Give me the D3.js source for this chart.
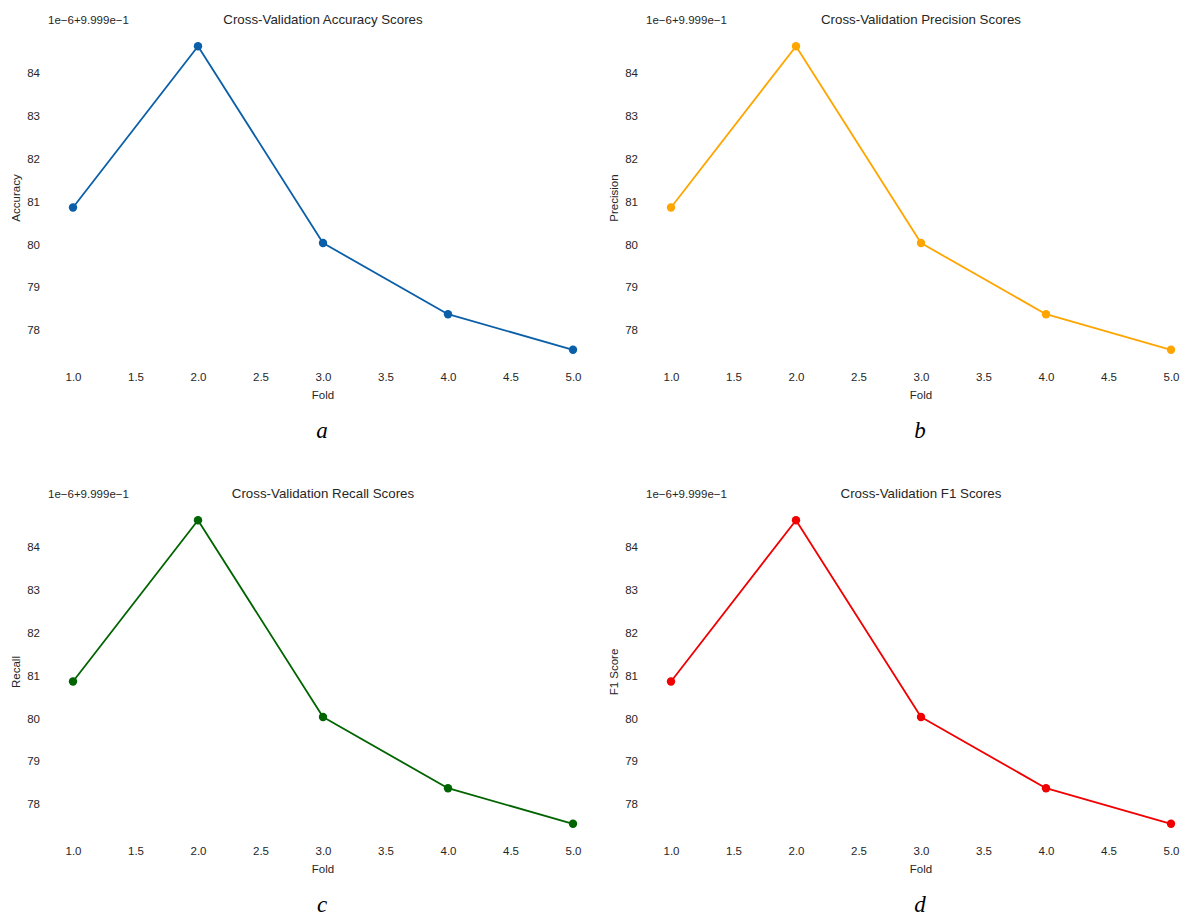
<!DOCTYPE html>
<html>
<head>
<meta charset="utf-8">
<script src="https://cdn.jsdelivr.net/npm/d3@7"></script>
<style>
  html, body { margin: 0; padding: 0; background: #fff; }
  svg { display: block; }
  text { fill: #262626; }
  .sans { font-family: "Liberation Sans", Arial, sans-serif; }
  .tag { font-family: "Liberation Serif", "Times New Roman", serif; font-style: italic; fill: #000; }
</style>
</head>
<body>
<svg id="chart" width="1183" height="916"></svg>
<script>
// Fold numbers and per-metric cross-validation scores
const folds = [1, 2, 3, 4, 5];
const accuracyScores  = [0.99998086, 0.99998462, 0.99998003, 0.99997837, 0.99997754];
const precisionScores = [0.99998086, 0.99998462, 0.99998003, 0.99997837, 0.99997754];
const recallScores    = [0.99998086, 0.99998462, 0.99998003, 0.99997837, 0.99997754];
const f1Scores        = [0.99998086, 0.99998462, 0.99998003, 0.99997837, 0.99997754];

// Axis offset notation: value = 9.999e-1 + tick * 1e-6
const offsetBase = 0.9999;
const offsetScale = 1e-6;
const offsetText = "1e\u22126+9.999e\u22121";
const yTickLabels = [78, 79, 80, 81, 82, 83, 84];
const xTickLabels = [1.0, 1.5, 2.0, 2.5, 3.0, 3.5, 4.0, 4.5, 5.0];

const panels = [
  { title: "Cross-Validation Accuracy Scores",  ylabel: "Accuracy",  values: accuracyScores,  color: "#0a5fa8", tag: "a", col: 0, row: 0 },
  { title: "Cross-Validation Precision Scores", ylabel: "Precision", values: precisionScores, color: "#ffa500", tag: "b", col: 1, row: 0 },
  { title: "Cross-Validation Recall Scores",    ylabel: "Recall",    values: recallScores,    color: "#006400", tag: "c", col: 0, row: 1 },
  { title: "Cross-Validation F1 Scores",        ylabel: "F1 Score",  values: f1Scores,        color: "#f00000", tag: "d", col: 1, row: 1 }
];

const svg = d3.select("#chart");
const colStep = 598, rowStep = 474;

panels.forEach(p => {
  const ox = p.col * colStep, oy = p.row * rowStep;
  const g = svg.append("g").attr("transform", `translate(${ox},${oy})`);

  // matplotlib-style 5% margins around the data
  const xExt = d3.extent(folds), xPad = (xExt[1] - xExt[0]) * 0.05;
  const yExt = d3.extent(p.values), yPad = (yExt[1] - yExt[0]) * 0.05;
  const x = d3.scaleLinear().domain([xExt[0] - xPad, xExt[1] + xPad]).range([48, 598]);
  const y = d3.scaleLinear().domain([yExt[0] - yPad, yExt[1] + yPad]).range([365, 31]);

  const xAxis = d3.axisBottom(x).tickValues(xTickLabels).tickSize(0).tickPadding(0)
    .tickFormat(d3.format(".1f"));
  const yAxis = d3.axisLeft(y)
    .tickValues(yTickLabels.map(t => offsetBase + t * offsetScale))
    .tickSize(0).tickPadding(0)
    .tickFormat(v => Math.round((v - offsetBase) / offsetScale));

  const gx = g.append("g").attr("transform", "translate(0,373)").call(xAxis);
  gx.select(".domain").remove();
  gx.selectAll("text").attr("class", "sans").attr("font-size", 11.5).attr("fill", "#262626").attr("dy", "0.71em");

  const gy = g.append("g").attr("transform", "translate(40,0)").call(yAxis);
  gy.select(".domain").remove();
  gy.selectAll("text").attr("class", "sans").attr("font-size", 11.5).attr("fill", "#262626");

  // Offset annotation above the y axis
  g.append("text").attr("class", "sans").attr("x", 48).attr("y", 24).attr("font-size", 11.5).text(offsetText);

  // Title
  g.append("text").attr("class", "sans").attr("x", 323).attr("y", 24).attr("text-anchor", "middle")
    .attr("font-size", 13.3).text(p.title);

  // Axis labels
  g.append("text").attr("class", "sans").attr("x", 323).attr("y", 399).attr("text-anchor", "middle")
    .attr("font-size", 11.5).text("Fold");
  g.append("text").attr("class", "sans").attr("transform", `translate(20,${(31 + 365) / 2}) rotate(-90)`)
    .attr("text-anchor", "middle").attr("font-size", 11.5).text(p.ylabel);

  // Line and markers
  const pts = folds.map((f, i) => [f, p.values[i]]);
  g.append("path").datum(pts)
    .attr("fill", "none").attr("stroke", p.color).attr("stroke-width", 1.8)
    .attr("stroke-linejoin", "round")
    .attr("d", d3.line().x(d => x(d[0])).y(d => y(d[1])));
  g.selectAll("circle.pt").data(pts).join("circle")
    .attr("class", "pt").attr("cx", d => x(d[0])).attr("cy", d => y(d[1]))
    .attr("r", 4.2).attr("fill", p.color);

  // Sub-figure tag
  g.append("text").attr("class", "tag").attr("x", 322).attr("y", 438).attr("text-anchor", "middle")
    .attr("font-size", 23).text(p.tag);
});
</script>
</body>
</html>
